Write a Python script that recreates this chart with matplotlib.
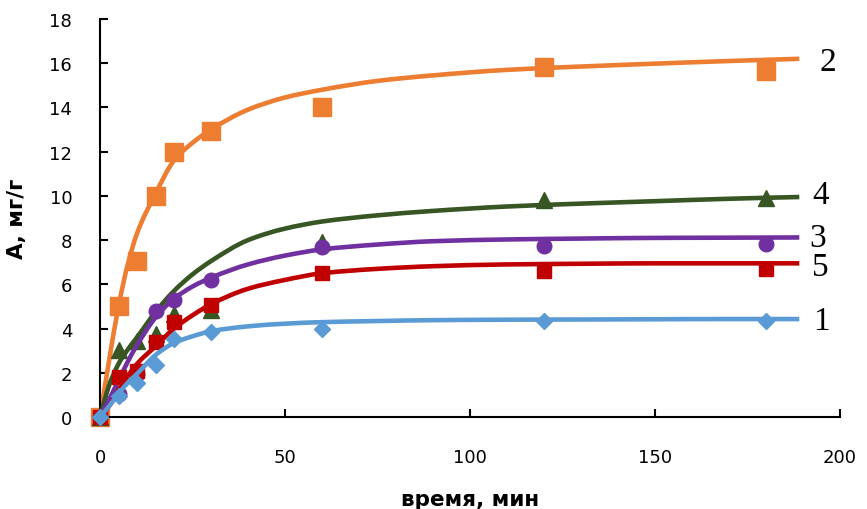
import matplotlib
matplotlib.use("Agg")
import matplotlib.pyplot as plt
from matplotlib.path import Path
from matplotlib.patches import PathPatch

# ---- data ----
t_exp = [0, 5, 10, 15, 20, 30, 60, 120, 180]
a1_exp = [0, 0.95, 1.55, 2.35, 3.55, 3.85, 4.0, 4.35, 4.35]
a2_exp = [0, 5.0, 7.05, 10.0, 12.0, 12.95, 14.0, 15.85, 15.65]
a3_exp = [0, 1.05, 1.95, 4.8, 5.3, 6.2, 7.7, 7.75, 7.82]
a4_exp = [0, 3.05, 3.45, 3.75, 4.65, 4.85, 7.9, 9.8, 9.9]
a5_exp = [0, 1.8, 2.1, 3.4, 4.3, 5.05, 6.5, 6.62, 6.7]

t_fit = [0, 2.5, 5, 7.5, 10, 15, 20, 25, 30, 40, 50, 60, 75, 90, 110, 130, 150, 170, 189]
a1_fit = [0, 0.5, 1.05, 1.55, 1.95, 2.8, 3.35, 3.65, 3.88, 4.1, 4.22, 4.29, 4.34, 4.38, 4.4, 4.41, 4.42, 4.43, 4.43]
a2_fit = [0, 2.6, 5.0, 6.9, 8.3, 10.1, 11.6, 12.4, 13.0, 13.9, 14.45, 14.8, 15.2, 15.45, 15.7, 15.85, 15.98, 16.1, 16.2]
a3_fit = [0, 0.8, 1.65, 2.5, 3.25, 4.5, 5.35, 5.9, 6.3, 6.9, 7.3, 7.58, 7.8, 7.95, 8.03, 8.07, 8.1, 8.11, 8.12]
a4_fit = [0, 1.45, 2.4, 3.05, 3.6, 4.75, 5.7, 6.45, 7.05, 8.0, 8.52, 8.84, 9.12, 9.32, 9.52, 9.65, 9.76, 9.87, 9.95]
a5_fit = [0, 0.5, 1.2, 1.85, 2.4, 3.2, 4.0, 4.6, 5.1, 5.8, 6.2, 6.5, 6.7, 6.82, 6.9, 6.93, 6.95, 6.95, 6.95]

series_labels = ["2", "4", "3", "5", "1"]
x_ticks = [0, 50, 100, 150, 200]
y_ticks = [0, 2, 4, 6, 8, 10, 12, 14, 16, 18]
x_label = "время, мин"
y_label = "А, мг/г"


def smooth_path(xs, ys):
    """Smooth (monotone cubic Hermite) curve through the points, as Bezier path."""
    n = len(xs)
    h = [xs[i + 1] - xs[i] for i in range(n - 1)]
    d = [(ys[i + 1] - ys[i]) / h[i] for i in range(n - 1)]
    m = [0.0] * n
    m[0] = d[0]
    m[-1] = d[-1]
    for i in range(1, n - 1):
        if d[i - 1] * d[i] <= 0:
            m[i] = 0.0
        else:
            w1 = 2 * h[i] + h[i - 1]
            w2 = h[i] + 2 * h[i - 1]
            m[i] = (w1 + w2) / (w1 / d[i - 1] + w2 / d[i])
    verts = [(xs[0], ys[0])]
    codes = [Path.MOVETO]
    for i in range(n - 1):
        verts += [(xs[i] + h[i] / 3, ys[i] + m[i] * h[i] / 3),
                  (xs[i + 1] - h[i] / 3, ys[i + 1] - m[i + 1] * h[i] / 3),
                  (xs[i + 1], ys[i + 1])]
        codes += [Path.CURVE4] * 3
    return Path(verts, codes)


# ---- figure ----
fig = plt.figure(figsize=(8.67, 5.10), dpi=100)
ax = fig.add_axes([100 / 867, 92 / 510, 740 / 867, 398 / 510])

styles = [
    # exp, fit, color, marker, msize, label, label offset (px)
    (a2_exp, a2_fit, "#ED7D31", "s", 13.5, series_labels[0], (29, -3)),
    (a4_exp, a4_fit, "#375623", "^", 11, series_labels[1], (21, 2)),
    (a3_exp, a3_fit, "#7030A0", "o", 10.5, series_labels[2], (18, 0)),
    (a5_exp, a5_fit, "#C00000", "s", 10, series_labels[3], (21, -3)),
    (a1_exp, a1_fit, "#5B9BD5", "D", 8.5, series_labels[4], (22, -2)),
]

z = 2
for a_exp, a_fit, col, mk, ms, lab, off in styles:
    patch = PathPatch(smooth_path(t_fit, a_fit), fill=False, edgecolor=col, lw=3.3,
                      capstyle="butt", zorder=z, clip_on=False)
    ax.add_patch(patch)
    ax.plot(t_exp, a_exp, ls="none", marker=mk, ms=ms, color=col, mec=col,
            zorder=z + 0.5, clip_on=False)
    ax.annotate(lab, xy=(t_fit[-1], a_fit[-1]), xytext=off, textcoords="offset pixels",
                ha="center", va="center", fontsize=24, family="Liberation Serif", color="black")
    z += 1

ax.set_xlim(0, 200)
ax.set_ylim(0, 18)
ax.set_xticks(x_ticks)
ax.set_yticks(y_ticks)
for s in ["top", "right"]:
    ax.spines[s].set_visible(False)
for s in ["left", "bottom"]:
    ax.spines[s].set_linewidth(1.5)
    ax.spines[s].set_color("black")
ax.tick_params(axis="both", direction="in", length=6, width=1.5, labelsize=13)
ax.tick_params(axis="x", pad=22)
ax.tick_params(axis="y", pad=20)

ax.set_xlabel(x_label, fontsize=15.5, fontweight="bold", labelpad=17)
ax.set_ylabel(y_label, fontsize=15.5, fontweight="bold", labelpad=16)

fig.savefig("out.png", dpi=100, facecolor="white")
